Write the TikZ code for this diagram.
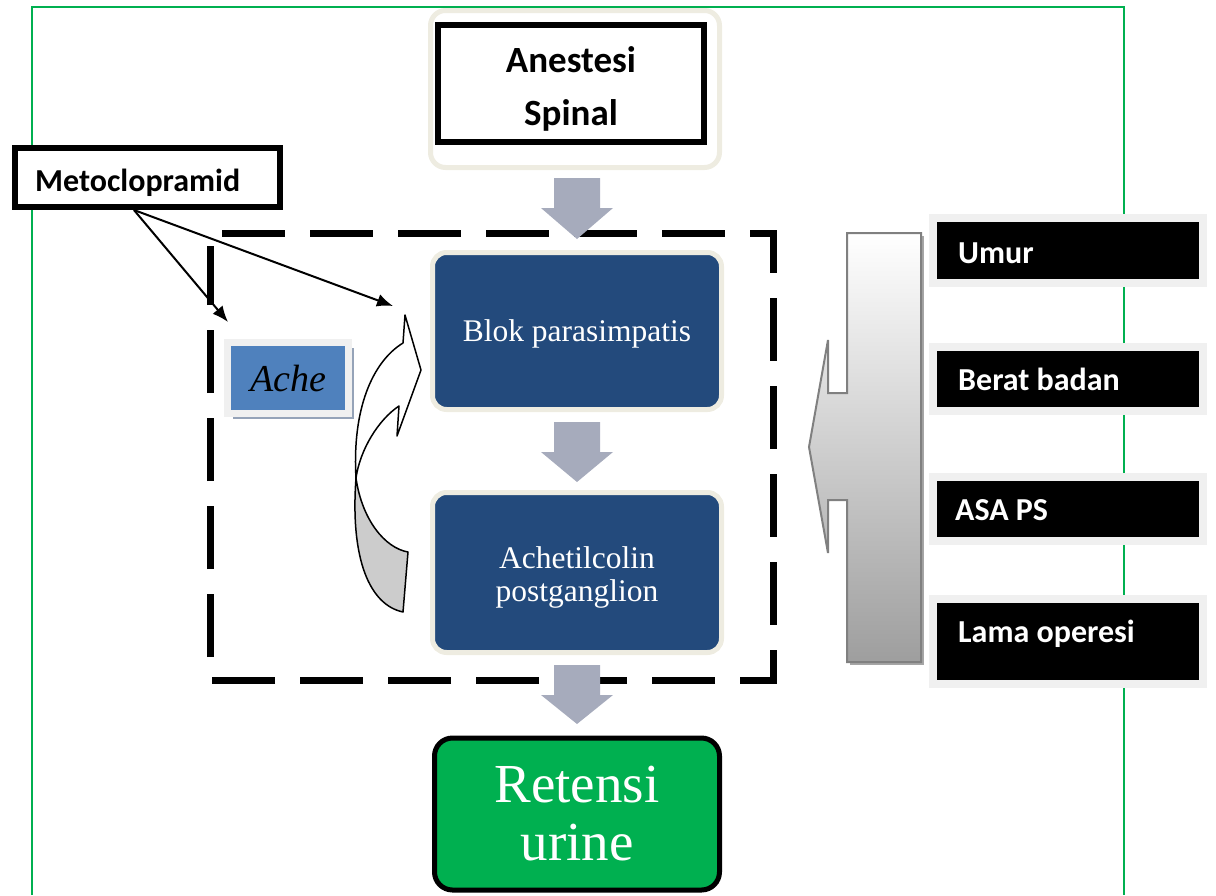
\documentclass[tikz,border=0pt]{standalone}
\usepackage{fontspec}
\setmainfont{Liberation Serif}
\newfontfamily\calib{Carlito}
\usepackage{tikz}
\usetikzlibrary{calc,arrows.meta,shadows}

\definecolor{frameGreen}{HTML}{00B050}
\definecolor{boxBlue}{HTML}{234A7C}
\definecolor{paleBeige}{HTML}{EEECE1}
\definecolor{acheBlue}{HTML}{4F81BD}
\definecolor{acheShadow}{HTML}{95A3B8}
\definecolor{blockGray}{HTML}{A6ABBC}
\definecolor{rimGray}{HTML}{F0F0F0}

\begin{document}
\begin{tikzpicture}[x=1pt,y=-1pt,
  bluebox/.style={draw=paleBeige, fill=boxBlue, line width=5pt, rounded corners=14pt,
    minimum width=289},
  bluetext/.style={text=white, align=center, font=\fontsize{31.5}{33.5}\selectfont},
  factor/.style={draw=rimGray, fill=black, line width=8pt, minimum width=270,
    drop shadow={shadow xshift=3pt, shadow yshift=-3pt, fill=black!22, opacity=1}},
  factortext/.style={anchor=base west, inner sep=0pt, text=white,
    font=\calib\bfseries\fontsize{32}{36}\selectfont},
  blockarrow/.style={fill=blockGray, draw=none},
  pointer/.style={line width=2pt, -{Latex[length=16pt,width=13pt]}}]
  \useasboundingbox (0,0) rectangle (1216,895);

  %% Green frame
  \draw[frameGreen, line width=1.6pt] (32,895) -- (32,7) -- (1124,7) -- (1124,895);

  %% Dashed region
  \draw[line width=7pt, dash pattern=on 63pt off 25pt]
    (222,233) -- (773,233) -- (773,680) -- (210,680) -- (210,246);

  %% Top box
  \node[draw=paleBeige, fill=white, line width=5pt, rounded corners=15pt,
        minimum width=289, minimum height=157] (SPframe) at (575,89) {};
  \node[draw, line width=6pt, minimum width=266, minimum height=117] (SP) at (571,83.5) {};
  \node[align=center, font=\calib\bfseries\fontsize{37}{53}\selectfont] (SPtxt)
    at ($(SP.center)+(0,5)$) {Anestesi\\Spinal};

  %% Blue boxes
  \node[bluebox, minimum height=157] (BLOK) at (577,331) {};
  \node[bluetext] (BLOKtxt) at ($(BLOK.center)+(0,3)$) {Blok parasimpatis};
  \node[bluebox, minimum height=160] (ACH) at (577,572.5) {};
  \node[bluetext] (ACHtxt) at ($(ACH.center)+(0,5)$) {Achetilcolin\\postganglion};

  %% Result
  \node[draw, fill=frameGreen, line width=5pt, rounded corners=18pt, text=white,
        minimum width=285, minimum height=152, align=center,
        font=\fontsize{55}{58}\selectfont] (RET) at (577,814) {Retensi\\urine};

  %% Gray arrows between the boxes
  \foreach \yt/\ym/\yb in {178/208/239, 422/452/482, 665/695/724}
  {
    \fill[blockarrow] (554,\yt) -- (600,\yt) -- (600,\ym) -- (613,\ym) -- (577,\yb)
      -- (541,\ym) -- (554,\ym) -- cycle;
  }

  %% Metoclopramid and its arrows
  \node[draw, fill=white, line width=6pt, minimum width=265, minimum height=59] (META)
    at (147.5,177.5) {};
  \node[anchor=base west, inner sep=0pt, font=\calib\bfseries\fontsize{32}{36}\selectfont]
    (METAtxt) at (35,191) {Metoclopramid};
  \coordinate (toAche) at (228,322);
  \coordinate (toBlok) at (393,306);
  \draw[pointer] ($(META.south west)!0.45!(META.south east)$) -- (toAche);
  \draw[pointer] ($(META.south west)!0.45!(META.south east)$) -- (toBlok);

  %% Ache
  \node[draw=rimGray, fill=acheBlue, line width=7pt, minimum width=121, minimum height=71,
        drop shadow={shadow xshift=5pt, shadow yshift=-5pt, fill=acheShadow, opacity=1},
        font=\itshape\fontsize{38}{40}\selectfont] (ACHE) at (288,378) {Ache};

  %% Curved arrow (back then front)
  \filldraw[fill=black!20, line width=1.5pt, line join=round]
    (356,478) .. controls (362,520) and (385,548) .. (408,552) -- (403,612)
    .. controls (370,605) and (350,560) .. (356,478) -- cycle;
  \filldraw[fill=white, line width=1.5pt, line join=round]
    (356,478) .. controls (352,410) and (372,362) .. (403,343) -- (405,315)
    -- (421,370) -- (397,436) -- (399,406)
    .. controls (378,420) and (360,450) .. (356,478) -- cycle;

  %% Factors on the right
  \foreach \nm/\cy/\h in {UMUR/250.5/65, BB/379/64, ASA/509/64, LAMA/641.5/85}
  {
    \node[factor, minimum height=\h] (\nm) at (1068,\cy) {};
  }
  \node[factortext] (UMURtxt) at (958,263) {Umur};
  \node[factortext] (BBtxt) at (958,390) {Berat badan};
  \node[factortext] (ASAtxt) at (955,520) {ASA PS};
  \node[factortext] (LAMAtxt) at (958,642) {Lama operesi};

  %% Big left-pointing arrow
  \fill[black!35] (924,236) -- (924,665) -- (850,665) -- (850,236) -- cycle;
  \shade[top color=white, bottom color=black!38, draw=black!50, line width=2pt]
    (921,233) -- (847,233) -- (847,393) -- (828,393) -- (828,340) -- (809,447)
    -- (828,553) -- (828,500) -- (847,500) -- (847,662) -- (921,662) -- cycle;

\end{tikzpicture}
\end{document}
